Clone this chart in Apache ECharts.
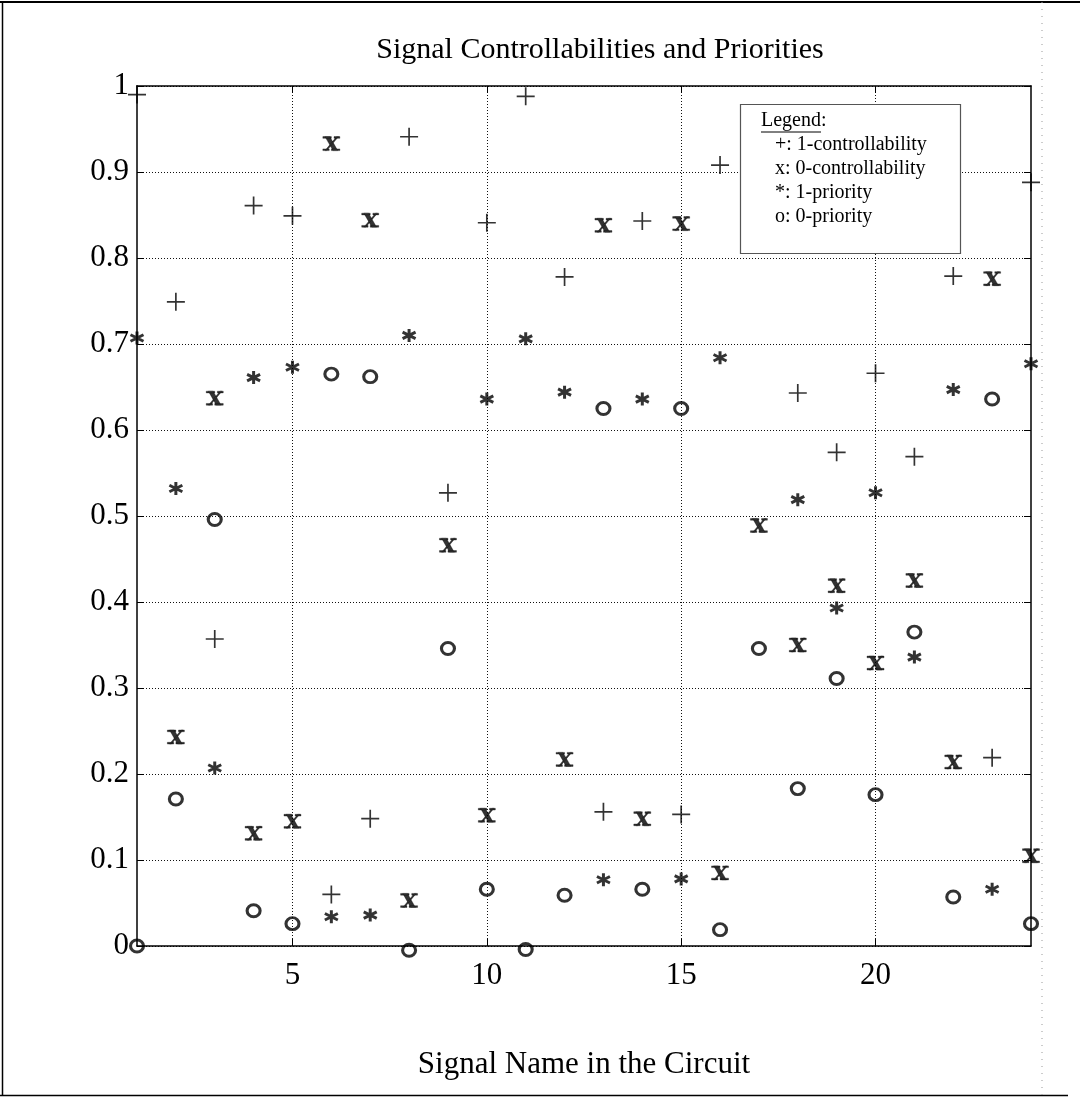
<!DOCTYPE html>
<html>
<head>
<meta charset="utf-8">
<script src="https://cdn.jsdelivr.net/npm/echarts@6/dist/echarts.min.js"></script>
<style>
html,body{margin:0;padding:0;background:#fff;}
#chart{width:1080px;height:1098px;}
</style>
</head>
<body>
<div id="chart"></div>
<script>
// ---- data ----
const signals = [1,2,3,4,5,6,7,8,9,10,11,12,13,14,15,16,17,18,19,20,21,22,23,24];
const controllability1 = [0.990,0.749,0.357,0.861,0.849,0.060,0.148,0.941,0.527,0.841,0.988,0.778,0.156,0.843,0.153,0.908,null,0.643,0.574,0.666,0.569,0.779,0.219,0.888];
const controllability0 = [null,0.243,0.637,0.131,0.145,0.933,0.844,0.053,0.466,0.152,null,0.217,0.838,0.148,0.840,0.085,0.489,0.350,0.419,0.329,0.425,0.214,0.776,0.105];
const priority1 = [0.707,0.532,0.207,0.661,0.673,0.034,0.036,0.710,null,0.636,0.706,0.644,0.077,0.636,0.078,0.684,null,0.519,0.393,0.527,0.336,0.647,0.066,0.677];
const priority0 = [0.000,0.171,0.496,0.041,0.026,0.665,0.662,-0.005,0.346,0.066,-0.004,0.059,0.625,0.066,0.625,0.019,0.346,0.183,0.311,0.176,0.365,0.057,0.636,0.026];
const xTickValues = [5,10,15,20];
const titleText = 'Signal Controllabilities and Priorities';
const xAxisTitle = 'Signal Name in the Circuit';
const legendTitle = 'Legend:';
const legendLines = ['+: 1-controllability','x: 0-controllability','*: 1-priority','o: 0-priority'];

function pairs(vals){
  const out = [];
  vals.forEach((v,i)=>{ if(v !== null) out.push([signals[i], v]); });
  return out;
}

const FONT = '"Liberation Serif","DejaVu Serif",serif';

const plusPath = 'path://M0 8 L16 8 M8 0 L8 16';
const xPath = 'path://M2 0 L6.5 0 L14 13 L9.5 13 Z M13 0 L14.8 0 L3.8 13 L2 13 Z M0 0 L8 0 L8 1.6 L0 1.6 Z M10.5 0 L16 0 L16 1.6 L10.5 1.6 Z M0 11.4 L6 11.4 L6 13 L0 13 Z M8 11.4 L16 11.4 L16 13 L8 13 Z';
const starPath = 'path://M6 0 L6 12 M0.8 3 L11.2 9 M0.8 9 L11.2 3';

const chart = echarts.init(document.getElementById('chart'), null, {renderer:'canvas'});

const gridSplit = {show:true, lineStyle:{color:'#111', width:1, type:[1,2]}};

const option = {
  backgroundColor:'#fff',
  animation:false,
  title:{
    text:titleText, left:595, top:30, textAlign:'center',
    textStyle:{fontFamily:FONT, fontSize:30, fontWeight:'normal', color:'#000'}
  },
  grid:{left:137, right:49, top:86, bottom:152, show:false},
  xAxis:[{
    type:'value', min:1, max:24,
    name:xAxisTitle, nameLocation:'middle', nameGap:103,
    nameTextStyle:{fontFamily:FONT, fontSize:31, color:'#000'},
    axisLine:{show:true, onZero:false, lineStyle:{color:'#000', width:1.5}},
    axisTick:{show:true, inside:true, length:7, customValues:xTickValues, lineStyle:{color:'#000'}},
    axisLabel:{show:true, customValues:xTickValues, margin:14, fontFamily:FONT, fontSize:31, color:'#000'},
    splitLine:gridSplit
  },{
    type:'value', min:1, max:24, position:'top',
    axisLine:{show:true, onZero:false, lineStyle:{color:'#000', width:1.5}},
    axisTick:{show:true, inside:true, length:7, customValues:xTickValues, lineStyle:{color:'#000'}},
    axisLabel:{show:false},
    splitLine:{show:false}
  }],
  yAxis:[{
    type:'value', min:0, max:1, interval:0.1,
    axisLine:{show:true, onZero:false, lineStyle:{color:'#000', width:1.5}},
    axisTick:{show:true, inside:true, length:7, lineStyle:{color:'#000'}},
    axisLabel:{show:true, margin:8, fontFamily:FONT, fontSize:31, color:'#000'},
    splitLine:gridSplit
  },{
    type:'value', min:0, max:1, interval:0.1, position:'right',
    axisLine:{show:true, onZero:false, lineStyle:{color:'#000', width:1.5}},
    axisTick:{show:true, inside:true, length:7, lineStyle:{color:'#000'}},
    axisLabel:{show:false},
    splitLine:{show:false}
  }],
  series:[
    {name:'1-controllability', type:'scatter', clip:false, data:pairs(controllability1),
     symbol:plusPath, symbolSize:18,
     itemStyle:{color:'rgba(0,0,0,0)', borderColor:'#000', borderWidth:1.7}, z:3},
    {name:'0-controllability', type:'scatter', clip:false, data:pairs(controllability0),
     symbol:xPath, symbolSize:[17,14],
     itemStyle:{color:'#000', borderColor:'#000', borderWidth:0.4}, z:3},
    {name:'1-priority', type:'scatter', clip:false, data:pairs(priority1),
     symbol:starPath, symbolSize:13,
     itemStyle:{color:'rgba(0,0,0,0)', borderColor:'#000', borderWidth:3}, z:3},
    {name:'0-priority', type:'scatter', clip:false, data:pairs(priority0),
     symbol:'circle', symbolSize:[13,12],
     itemStyle:{color:'rgba(0,0,0,0)', borderColor:'#000', borderWidth:3}, z:3}
  ],
  graphic:[
    // page frame
    {type:'line', shape:{x1:0,y1:2,x2:1080,y2:2}, style:{stroke:'#000', lineWidth:2}, z:1},
    {type:'line', shape:{x1:2.5,y1:2,x2:2.5,y2:1096}, style:{stroke:'#000', lineWidth:1.5}, z:1},
    {type:'line', shape:{x1:0,y1:1095.5,x2:1068,y2:1095.5}, style:{stroke:'#000', lineWidth:1.5}, z:1},
    {type:'line', shape:{x1:1042,y1:2,x2:1042,y2:1096}, style:{stroke:'#999', lineWidth:1, lineDash:[1,6]}, z:1},
    // legend box
    {type:'group', z:100, children:[
      {type:'rect', shape:{x:740.5,y:104.5,width:220,height:149}, style:{fill:'#fff', stroke:'#555', lineWidth:1.2}, z:100},
      {type:'text', x:761, y:121, style:{text:legendTitle, fontFamily:FONT, fontSize:20, fill:'#000', textVerticalAlign:'middle'}, z:101},
      {type:'line', shape:{x1:761,y1:132,x2:821,y2:132}, style:{stroke:'#000', lineWidth:1}, z:101},
      {type:'text', x:775, y:145, style:{text:legendLines[0], fontFamily:FONT, fontSize:20, fill:'#000', textVerticalAlign:'middle'}, z:101},
      {type:'text', x:775, y:169, style:{text:legendLines[1], fontFamily:FONT, fontSize:20, fill:'#000', textVerticalAlign:'middle'}, z:101},
      {type:'text', x:775, y:193, style:{text:legendLines[2], fontFamily:FONT, fontSize:20, fill:'#000', textVerticalAlign:'middle'}, z:101},
      {type:'text', x:775, y:217, style:{text:legendLines[3], fontFamily:FONT, fontSize:20, fill:'#000', textVerticalAlign:'middle'}, z:101}
    ]}
  ]
};
chart.setOption(option);
</script>
</body>
</html>
